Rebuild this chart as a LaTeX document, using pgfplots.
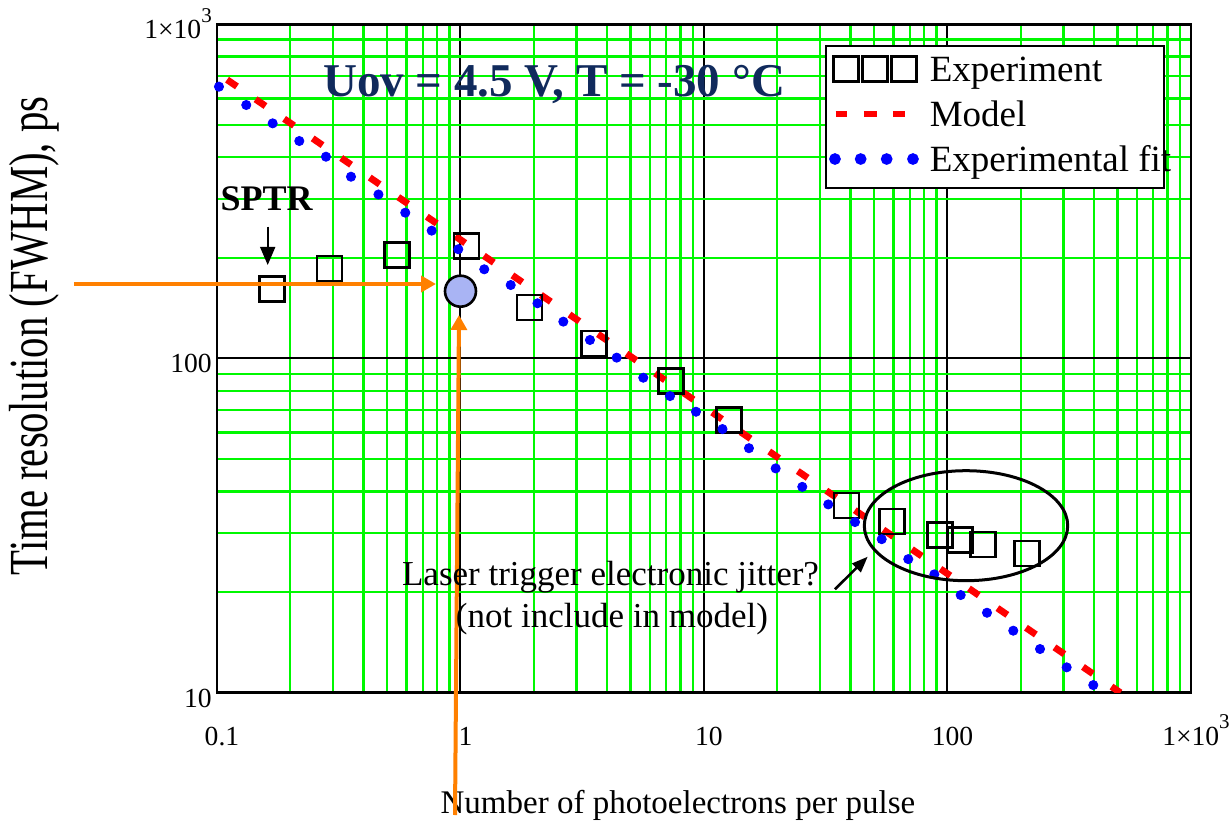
\documentclass[border=0pt]{standalone}
\usepackage{fontspec}
\setmainfont{Liberation Serif}
\usepackage{pgfplots}
\pgfplotsset{compat=1.18}
\usetikzlibrary{arrows.meta}
\definecolor{gridgreen}{HTML}{00F800}
\definecolor{navytitle}{HTML}{102A5C}
\definecolor{arroworange}{HTML}{FF8000}
\definecolor{sptrfill}{HTML}{A9B4F4}
% pixel position of the reference -> picture coordinates (axis corner at origin)
\newcommand{\pp}[2]{({(#1-217)*0.5pt},{(692.7-#2)*0.5pt})}
\newcommand{\fs}[1]{\fontsize{#1}{#1}\selectfont}

\begin{document}
\begin{tikzpicture}
\begin{axis}[
  at={(0,0)}, anchor=south west,
  scale only axis, width=487pt, height=334.2pt,
  xmode=log, ymode=log,
  xmin=0.1, xmax=1000, ymin=10, ymax=1000,
  xtick={0.1,1,10,100,1000},
  xticklabels={0.1,1,10,100,{1×10\raisebox{0.6em}{\fs{10.5}3}}},
  ytick={10,100,1000},
  yticklabels={10,100,{1×10\raisebox{0.6em}{\fs{10.5}3}}},
  minor xtick={0.2,0.3,0.4,0.5,0.6,0.7,0.8,0.9,2,3,4,5,6,7,8,9,20,30,40,50,60,70,80,90,200,300,400,500,600,700,800,900},
  minor ytick={20,30,40,50,60,70,80,90,200,300,400,500,600,700,800,900},
  grid=both,
  minor grid style={gridgreen, line width=1.2pt},
  major grid style={black, line width=1pt},
  major tick length=0pt, minor tick length=0pt,
  axis line style={line width=1.3pt},
  ticklabel style={font=\fs{13.8}, inner sep=0pt},
  xticklabel style={anchor=base, yshift=-26.15pt, xshift=2.5pt},
  yticklabel style={anchor=base east, yshift=-7.25pt, xshift=-2.4pt},
  xlabel={Number of photoelectrons per pulse},
  xlabel style={font=\fs{16.5}, at={(axis description cs:0.4733,-0.18)}, anchor=base, inner sep=0pt},
  ylabel={\scalebox{1}[1.35]{Time resolution (FWHM), ps}},
  ylabel style={font=\fs{20.4}, at={(axis description cs:-0.1745,0.5337)}, anchor=base, inner sep=0pt},
  legend cell align=left,
  legend style={at={(0.6242,0.969)}, anchor=north west, draw=black, line width=1.2pt,
    fill=white, inner xsep=1.5pt, inner ysep=4.5pt, font=\fs{18.5}, row sep=5.9pt,
    nodes={inner sep=0pt, text height=12.6pt, text depth=4pt},
    /tikz/every odd column/.append style={column sep=5.5pt}},
]
% measured points
\addplot[only marks, mark=square, mark size=6.25pt, mark options={draw=black, line width=1.3pt},
  legend image code/.code={
    \draw[solid, black, line width=1.3pt] (0pt,-4.45pt) rectangle (12.5pt,8.05pt);
    \draw[solid, black, line width=1.3pt] (14.5pt,-4.45pt) rectangle (27pt,8.05pt);
    \draw[solid, black, line width=1.3pt] (29pt,-4.45pt) rectangle (41.5pt,8.05pt);}]
  coordinates {(0.168,161.5)(0.29,186)(0.548,204)(1.06,217)(1.92,142)(3.53,111)(7.32,85.6)
    (12.7,65.5)(38.5,36.3)(59.3,32.5)(93.4,29.6)(112.5,28.6)(140,27.8)(212,26.1)};
\addlegendentry{Experiment}
% model
\addplot[red, line width=3.4pt, dash pattern=on 6pt off 11.3pt, dash phase=11.2pt,
  legend image code/.code={
    \draw[solid, red, line width=3.4pt] (1pt,1.8pt) -- (6.85pt,1.8pt);
    \draw[solid, red, line width=3.4pt] (15.15pt,1.8pt) -- (21.5pt,1.8pt);
    \draw[solid, red, line width=3.4pt] (29.65pt,1.8pt) -- (35.5pt,1.8pt);}]
  coordinates {(0.1,716)(1,226.6)(10,71.7)(100,22.7)(513,10)};
\addlegendentry{Model}
% experimental fit
\addplot[only marks, mark=*, mark size=2.3pt, mark options={draw=blue, fill=blue},
  legend image code/.code={
    \fill[blue] (0.65pt,1.8pt) circle (2.3pt);
    \fill[blue] (13.5pt,1.8pt) circle (2.3pt);
    \fill[blue] (26.5pt,1.8pt) circle (2.3pt);
    \fill[blue] (39.65pt,1.8pt) circle (2.3pt);}]
  coordinates {(0.1019,650.7)(0.1319,573.5)(0.1693,505.4)(0.2178,447.5)(0.2803,401.6)
    (0.3551,349.9)(0.4604,309.6)(0.5933,273.1)(0.7616,241.3)(0.9795,212.3)(1.252,184.9)
    (1.608,165.9)(2.071,146.3)(2.644,128.9)(3.402,113.6)(4.380,100.6)(5.632,87.6)
    (7.251,77.2)(9.271,69.3)(11.91,61.5)(15.30,53.9)(19.70,46.9)(25.33,41.3)(32.39,36.6)
    (41.70,32.4)(53.69,28.8)(69.02,25.1)(88.29,22.6)(113.3,19.6)(145.3,17.35)(186.3,15.33)
    (239.9,13.51)(308.7,11.91)(397.0,10.54)};
\addlegendentry{Experimental fi\rlap{t}}
% SPTR at one photoelectron
\addplot[forget plot, only marks, mark=*, mark size=7.75pt,
  mark options={fill=sptrfill, draw=black, line width=1.3pt}]
  coordinates {(1,159)};
\end{axis}

% annotations
\node[anchor=base west, inner sep=0pt, font=\fs{23.5}\bfseries, text=navytitle]
  at \pp{322.7}{97} {Uov = 4.5 V, T = -30 °C};
\node[anchor=base, inner sep=0pt, font=\fs{18}\bfseries] at \pp{266.7}{210} {SPTR};
\draw[line width=0.8pt, -{Triangle[length=9pt, width=7.5pt]}] \pp{267.7}{226.7} -- \pp{267.7}{265};
\draw[arroworange, line width=2pt, -{Triangle[length=7.5pt, width=8pt]}] \pp{74}{284} -- \pp{436}{284};
\draw[arroworange, line width=2pt, -{Triangle[length=7.5pt, width=8pt]}] \pp{455}{815} -- \pp{459}{315};
\draw[line width=1.5pt] \pp{966}{525.7} ellipse [x radius=50.85pt, y radius=27.5pt];
\draw[line width=1.3pt, -{Triangle[length=8pt, width=6pt]}] \pp{835}{589.3} -- \pp{867.7}{556.7};
\node[anchor=base, inner sep=0pt, font=\fs{17.5}] at \pp{610.5}{585} {Laser trigger electronic jitter?};
\node[anchor=base, inner sep=0pt, font=\fs{17.5}] at \pp{612}{627} {(not include in model)};

\pgfresetboundingbox
\path[use as bounding box] \pp{0}{826} rectangle \pp{1232}{0};
\end{tikzpicture}
\end{document}
